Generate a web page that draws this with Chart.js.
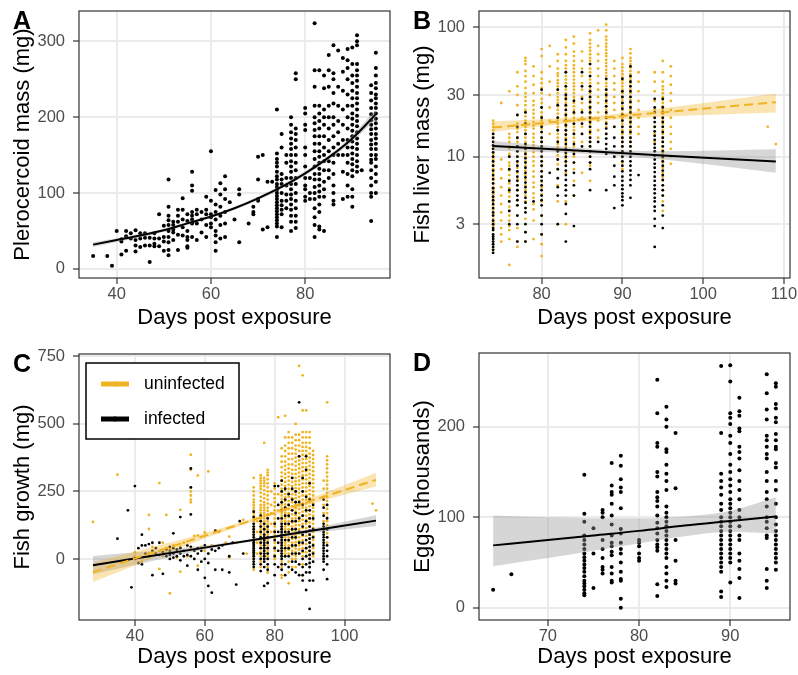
<!DOCTYPE html>
<html><head><meta charset="utf-8">
<script src="https://cdn.jsdelivr.net/npm/chart.js@4.4.0/dist/chart.umd.min.js"></script>
<style>
html,body{margin:0;padding:0;background:#fff;}
#wrap{position:relative;width:798px;height:675px;overflow:hidden;}
canvas{position:absolute;}
</style></head><body>
<div id="wrap">
<canvas id="cA" width="400" height="335" style="left:0;top:0"></canvas>
<canvas id="cB" width="398" height="335" style="left:400px;top:0"></canvas>
<canvas id="cC" width="400" height="340" style="left:0;top:335px"></canvas>
<canvas id="cD" width="398" height="340" style="left:400px;top:335px"></canvas>
</div>
<script>
// ---------- Panel A: plerocercoid mass ----------
const aDays = [35,38,39,40,41,42,43,44,45,46,47,48,49,50,51,52,53,54,55,56,57,58,59,60,61,62,63,64,65,66,68,69,70,71,72,73,74,75,76,77,78,80,81,82,83,84,85,86,87,88,89,90,91,92,94,95];
const aMass = [
 [17],[17],[4],[50],[39,36,19],[50,43,24],[47,40],[51,38,31,23],[47,40,29],[47,41,31],[41,31,9],[47,40,33,30],[72,40,30],[57,42,36,24],
 [118,82,70,64,58,50,42,35,25,18],[62,58,52,48,38],[78,70,62,45,25],[93,78,65,55,44],[72,63,50,42,38,30,28],[128,110,103,75,70,65,60,42],
 [78,72,60,38],[75,65,48],[95,78,72,58,42],[155,90,72,68,60,55],[104,85,75,65,50,44,35,24],[113,98,82,70,58,40],[122,105,92,75,60,42],
 [88],[65],[105,98,35],[60],[82,75,72],[148,118,92,90],[150,52],[115,55],[115],
 [210,152,145,140,135,128,122,118,112,108,104,100,96,92,88,84,80,76,72,68,64,60,56,42],
 [178,160,125,118,112,100,90,84,78,72,55],
 [150,140,120,110,98,90,80],
 [200,190,180,172,165,158,150,142,135,128,120,112,105,98,92,85,78,70,62,50],
 [258,250,185,178,170,160,150,140,130,120,112,100,90,80,70,62,54],
 [212,205,190,183,160,150,135,120,110,105,95,90],
 [120,100,92],
 [324,262,240,215,200,192,183,175,165,155,145,135,125,118,108,100,92,80,68,58,42],
 [262,215,205,195,185,175,165,155,148,140,132,125,118,110,102,95,85,75,56,52],
 [255,238,210,200,190,175,160,150,142,130,115,105,95,50],
 [282,262,240,215,200,185,170,155,142,130,120],
 [295,258,250,232,218,200,190,175,160,150,140,125,110,100,90,85],
 [288,240,215,195,180,165,150],
 [278,260,235,210,190,170,150,128,92],
 [290,275,265,250,230,215,200,185,170,160,150,140,125,110,95],
 [292,270,255,245,235,225,215,205,198,190,182,175,168,160,152,145,138,130,122,105,95,82],
 [308,300,295,270,262,255,248,240,232,225,218,210,202,195,188,180,172,165,158,150,142,135,128],
 [130],
 [242,232,222,212,204,196,190,184,178,170,164,158,150,144,140,130,120,110,100,95,63],
 [285,265,255,245,238,230,225,218,212,205,198,192,185,178,172,165,158,150,145,135,125,115,100]
];
const aFitX = [35,40,45,50,55,60,65,70,75,80,85,90,95];
const aFit   = [32,38,44,51,60,69,80,93,108,126,147,172,204];
const aFitLo = [29,35.5,41.5,49,58,67,78,90.5,105.5,123,144,168,197];
const aFitHi = [35,40.5,46.5,53,62,71,82,95.5,110.5,129,150,176,211];
const aTicksX = [40,60,80];
const aTicksY = [0,100,200,300];

// ---------- Panel B: fish liver mass (log scale) ----------
const seriesLabels = ['uninfected','infected'];
const bDaysU = [74,75,76,77,78,79,80,81,82,83,84,85,86,87,88,89,90,91,92,94,95,96,108,109];
const bLiverU = [
 [19,18,17,16,15,14,13,12,11.5,10.5,10,9.5,9,8.5,8,7.5,7,6.6,6.2,5.8,5.5,5.1,4.8,4.5,4.2,3.9,3.6,3.3,3.1,2.9,2.7,2.4,2.1,1.9],
 [26,9.5,8,6.8,5.8,5,4.3,3.7,3.2,2.8,2.5,2.2],
 [32,15,14,13,12,11.5,10.5,10,9,8.5,7.8,7.2,6.6,6.2,5.7,5.3,4.9,4.5,4.1,3.8,3.5,3.2,2.9,2.7,2.3,1.45],
 [45,35,30,25,21,18,16.5,15.5,14,13,12,11,10,9,8.2,7.5,6.7,6,5.5,5,4.6,4.2,3.5,2.8,2.2,2],
 [58,55,52,46,42,38,34,31,29,27,25,23,22,20.5,19,18,17,16,15,14,13,12.2,11.5,10.8,10,9.2,8.5,7.8,7.2,6.6,6,5.5,5,4.5,4,3.3,2.6,2.2],
 [50,42,36,31,27,25,23,21.5,20,18.5,17.5,16.5,15,14,13,12.2,11.5,10.8,10,9.2,8.5,7.7,7,6.3,5.8,5.2,4.8,4.3,3.9,3.2,2.3],
 [68,60,45,40,37,34,31,28,26,24,22,20.5,19,17.5,16.5,15.5,14,13,12,11,10,9.2,8.5,7.7,7,6.4,5.8,5.1,4.5,3.5,2.5,2.1,1.7],
 [72,50,38,30,24,19,15],
 [62,55,48,44,42,39,37,35,33,31,29,27.5,26,24.5,23,21.5,20,19,18,17,16,15,14,13.2,12.5,11.8,11,10.2,9.5,8.7,8,6,4.5,3],
 [80,70,62,55,51,48,45,42,39.5,37,35,33,31,29,27.5,26,24.5,23,21.5,20,19,18,17,16,15,14,13,12,11.2,10.5,9.7,9,7.5,6,4.5,3],
 [85,75,65,60,55,51,48,45,42,39.5,37,35,33,31,29,27.5,26,24.5,23,21.5,20,19,18,17,16,15,14,13,12,11,10,9,8,6.5,5],
 [65,55,48,42,37,33,29,26,23,20,17,15,13,11,7.5],
 [90,80,75,70,66,62,58,55,52,48,45,42,39.5,37,35,33,31,29,27.5,26,24.5,23,21.5,20,19,18,17,16,15,14,13,12,11,10,9,8.5,6.5],
 [95,72,62,55,48,42,37,33,29,26,22,19,16,14],
 [105,95,85,80,75,71,67,63,60,56,53,50,47,44.5,42,39.5,37,35,33,31,29,27.5,26,24.5,23,21.5,20,18.5,17,15],
 [55,48,42,37,33,29,26,23,20,17],
 [58,52,49,46,43.5,41,39,37,35,33,31,29,27.5,26,24.5,23,21.5,20,19,18,17,16,15,14,13,12,11,10,9,8],
 [68,63,58,55,52,49,46,43.5,41,39,37,35,33,31,29,27.5,26,24.5,23,21.5,20,19,18,17,16,15,14,13,12,11],
 [45,38,32,27,23,20,17,15],
 [45,38,32,27,23,20,17,15,13,11],
 [55,45,38,35,33,31,29,27.5,26,24.5,23,21.5,20,19,18,17,16,15,14,13,12,11.2,10.5,9.7,9,8.2,7.5,7,6.5,6,5.5,5,4.5,3.8],
 [50,42,36,31,27,23,20,17,15,13,11.5,10,8.8],
 [17],[12.5]
];
const bDaysI = [74,76,77,78,79,80,81,82,83,84,85,86,87,88,89,90,91,92,94,95];
const bLiverI = [
 [15,14,13,12.2,11.5,10.8,10,9.2,8.5,7.8,7.2,6.7,6.2,5.7,5.3,4.9,4.6,4.3,4,3.7,3.5,3.2,3,2.8,2.7,2.5,2.4,2.3,2.2,2.1,2,1.9,1.8],
 [10,8,6.5,5.5,4.5,3.8,3],
 [21,17,14,12,11,10,9.2,8.5,7.7,7,6.5,6,5.5,5,4.6,4.2,3.5,3,2.2],
 [22,18,15,12.5,11.5,10.5,9.7,9,8.2,7.5,6.9,6.3,5.8,5.3,4.8,4.4,4,3.7,3,2.6,2.2],
 [4.5],
 [33,24,20,17,15.5,14,13,12,11,10,9.2,8.5,7.7,7,6.5,6,5.5,5,4.6,4.2,3.5,3,2.5],
 [7.5],
 [33,25,20,16,13,11,9.5,8,6.8,5.8,5,3],
 [45,35,30,28,25,23,21,19,17.5,16,14.8,13.5,12.5,11.5,10.7,10,9.2,8.5,7.8,7.2,6.6,6,5.5,5,4.3,3.6,2.2],
 [27,22,18,15,12.5,10.5,9,7.5,6,5,2.9],
 [45,35,28,22,18,15,12],
 [52,42,35,32,29,26.5,24,22,20,18.5,17,15.5,14,13,12,11,10,9,8,5.5],
 [13],
 [40,33,30,27,24.5,22,20,18,16.5,15,13.8,12.5,11.5,10.5,5.5],
 [17,14,12,10,8.5,7,6,4],
 [40,32,29,26,23.5,21,19,17,15.5,14,13,12,11,10,9.2,8.5,7.7,7,6.5,6,5.6,5.2,4.9,4.6,4.2],
 [50,42,38,35,32,29,26.5,24,22,20,18.5,17,15.5,14,13,12,11,10,9.2,8.5,7.8,7.2,6.6,6,4.8],
 [7.2],
 [28,24,22,20,18.5,17,15.7,14.5,13.5,12.5,11.7,11,10.2,9.5,8.8,8.2,7.6,7,6.5,6,5.6,5.2,4.8,4.5,4.1,3.8,3.3,2.9,2],
 [28,24,22,20,18.5,17,15.5,14,13,12,11,10,9.2,8.5,7.8,7.2,6.6,6,5.5,5,4.2,3.5,2.8]
];
const bFitX = [74,86,95,109];
const bFitU = [16.8,19.6,22,26.4];
const bLoU  = [15.6,18.8,20.4,22.0];
const bHiU  = [18.7,20.5,23.7,30.8];
const bFitI = [12.1,11.0,10.2,9.15];
const bLoI  = [11.1,10.5,9.5,7.5];
const bHiI  = [13.2,11.5,11.0,11.4];
const bTicksX = [80,90,100,110];
const bTicksY = [3,10,30,100];

// ---------- Panel C: fish growth ----------
const cDaysU = [28,35,40,42,44,45,47,48,49,50,51,52,53,54,55,56,57,58,59,60,61,62,64,66,67,69,71,72,74,75,76,77,78,79,80,81,82,83,84,85,86,87,88,89,90,91,94,95,108,109];
const cGrowthU = [
 [137],[312],[25,10],[-10],[163,111,20],[45],[281,-37,30],[60,10],[163,40],[-127,20,35],[50],[30,5],[182,-47,45],[60],[10],
 [386,330,265,250,235,220,210,40],[85],[309,87,-25],[45],[98,30],[324,20],[50],[100],[60],[83,5],[60],[145],[20],
 [300,265,250,235,220,210,200,190,180,170,160,150,140,130,120,110,100,90,80,70,60,50,40,30,20,10,0,-20,-40],
 [140,100,60,20],
 [310,300,290,280,270,260,245,230,215,200,190,180,170,160,150,140,130,120,110,100,90,80,70,60,50,40,25,10,-10,-30],
 [430,300,290,280,270,255,240,225,210,200,190,180,170,160,150,140,130,120,110,100,90,80,70,60,50,40,30,20,10],
 [330,320,310,295,280,265,250,235,220,205,190,178,165,152,140,130,120,110,100,90,80,70,60,50,40,30,20,10,0,-30,-50],
 [250,200,170,130,100],
 [280,260,240,225,210,195,180,165,150,135,120,105,90,75,60,45,30,15,0],
 [525,240,180],
 [410,380,360,340,320,305,290,275,260,248,235,222,210,200,190,180,170,160,150,140,130,120,110,100,90,80,70,60,50,40,30,20,10,-10,-30,-60,-70],
 [530,450,420,400,380,360,345,330,315,300,285,270,255,240,228,215,202,190,180,170,160,150,140,130,120,110,100,90,80,70,60,50,40,30,20,10],
 [470,450,430,410,390,370,350,335,320,305,290,275,260,245,230,215,200,185,170,155,140,125,110,95,80,65,50,35,20,-10,-50,-90],
 [450,430,410,390,370,350,330,315,300,285,270,255,240,225,210,195,180,165,150,135,120,105,90,75,60,45,30,15,0,-30],
 [500,460,440,420,405,390,375,360,345,330,315,300,288,275,262,250,238,225,212,200,188,175,162,150,138,125,112,100,88,75,62,50,38,25,12,0,-30],
 [715,460,440,420,400,380,365,350,335,320,305,290,275,260,245,230,215,200,185,170,155,140,125,110,95,80,65,50,35,20],
 [680,550,470,450,430,415,400,385,370,355,340,325,310,295,280,265,250,235,220,205,190,175,160,145,130,115,100,85,70,55,40,25,10,-20,-60],
 [550,470,450,430,415,400,385,370,355,340,325,310,295,280,265,250,235,220,205,190,175,160,145,130,115,100,85,70,55,40,25,10],
 [470,450,430,410,390,375,360,345,330,315,300,285,270,255,240,225,210,195,180,165,150,135,120,105,90,75,60,45,30,15,0,-30],
 [400,385,370,355,340,325,310,295,280,265,250,235,220,205,190,175,160,145,130,115,100,85,70,55,40,25,10],
 [290,260,230,200,170,140,110],
 [580,380,365,350,335,320,305,290,275,260,245,230,215,200,185,170,155,140,125,110,95,80,60],
 [205],[180]
];
const cDaysI = [35,38,39,40,41,42,43,44,45,46,47,48,49,50,51,52,53,54,55,56,57,58,59,60,61,62,63,64,65,67,68,69,70,71,74,76,77,78,80,81,82,83,84,85,86,87,88,89,90,91,94,95];
const cGrowthI = [
 [75],[180],[-105],[270,0],[-15,40],[90,50,-20],[50,20],[55,10],[60,30,-60],[40,20],[60,15],[-55,25],[35,10],[45,30,15,0],
 [95,40,20,5],[35,10],[155,40,20,-5],[30,10],[50,15,-25],[335,265,165,45,10],[30,0],[40,20,-40],[30,-10],[50,0,-70],
 [20,-15,-100],[35,-125],[105,30,-40],[40],[50,-40],[10,-50],[60],[-95],[140],[20],
 [175,155,130,120,110,100,90,80,70,62,55,48,40,32,25,18,10,0,-10,-20,-30],
 [160,140,120,100,80,60,40,20,0,-20,-45],
 [130,110,90,80,70,60,50,40,30,20,10,0,-10,-30,-100],
 [150,120,100,80,60,40,20,0,-20,-40,-90],
 [270,130,100,70,40,10,-20,-60],
 [270,200,150,100,60,30,-30],
 [290,250,210,180,150,130,120,110,100,90,80,70,60,50,40,30,20,10,0,-20,-40],
 [260,220,190,160,130,100,70,40,10,-20,-60],
 [240,200,160,130,100,70,40,10,-30],
 [300,260,220,180,140,110,80,50,20,-10,-40],
 [250,210,170,140,110,80,50,20,-10,-50],
 [580,380,210,150,100,60,20,-20,-60],
 [300,250,200,160,120,90,60,30,0,-30,-60,-80],
 [380,330,230,180,140,100,70,40,10,-20,-50,-115],
 [280,220,180,150,120,105,90,75,60,45,30,15,0,-15,-30,-50,-80,-185],
 [200,150,110,80,50,20,-10,-80],
 [220,190,160,130,120,110,100,90,80,70,60,50,40,30,20,10,0,-10,-40],
 [200,150,110,80,50,30,10,-20,-75]
];
const cFitX = [28,60,85,109];
const cFitU = [-49,86,192,293];
const cLoU  = [-85,76,184,268];
const cHiU  = [-13,96,200,318];
const cFitI = [-23,42,93,142];
const cLoI  = [-57,34,87,122];
const cHiI  = [11,50,99,162];
const cTicksX = [40,60,80,100];
const cTicksY = [0,250,500,750];

// ---------- Panel D: eggs ----------
const dDays = [64,66,74,75,76,77,78,80,82,83,84,89,90,91,94,95];
const dEggs = [
 [20],[37],
 [147,104,95,80,75,70,65,60,56,52,48,44,40,35,30,27,24,20,16,14],
 [88,60,22],
 [108,105,100,75,65,55,45,42,38],
 [160,135,128,125,115,102,92,80,72,68,62,58,45,38,30,28],
 [168,157,142,133,128,110,87,82,72,65,60,50,40,32,30,10,0],
 [75,72,68,60,55,52],
 [252,215,182,178,150,145,128,122,118,112,102,94,88,82,75,70,67,63,26,13],
 [222,208,200,175,172,158,148,140,130,112,105,100,95,90,85,80,75,70,65,60,55,45,38,30,23],
 [193,132,75,52,30,27],
 [267,193,148,140,133,125,115,108,100,95,90,85,80,75,70,65,60,55,50,45,40,18,12],
 [268,250,215,210,203,190,182,170,158,150,142,135,128,120,115,110,105,100,95,90,85,80,75,70,65,60,55,50,28],
 [232,217,212,198,195,178,172,165,152,140,130,120,108,100,90,80,75,60,52,43,33,11],
 [258,237,219,208,190,185,178,170,165,150,140,128,120,112,100,95,88,80,77,43,30,22],
 [248,244,225,220,210,205,192,185,178,175,160,155,140,130,115,100,92,85,80,75,70,65,60,55,50,42]
];
const dFitX = [64,70,75,80,85,90,95];
const dFit  = [69,75,80,85,91,96,101];
const dLo   = [46,55,63,71,79,84,82];
const dHi   = [102,100,99,99,101,107,122];
const dTicksX = [70,80,90];
const dTicksY = [0,100,200];

// ---------- helpers ----------
const FONT = '"Liberation Sans", Arial, Helvetica, sans-serif';
const ORANGE = '#F0B323';
const ORANGE_BAND = 'rgba(240,179,35,0.35)';
const GREY_BAND = 'rgba(153,153,153,0.4)';
Chart.defaults.font.family = FONT;

function flat(days, vals){ return days.flatMap((d,i)=>vals[i].map(v=>({x:d,y:v}))); }
function pairs(xs, ys){ return xs.map((x,i)=>({x:x,y:ys[i]})); }

function pointsDS(data, color, r, order){
  return {type:'scatter', data, backgroundColor:color, borderWidth:0, pointRadius:r, pointHoverRadius:r, pointBorderWidth:0, showLine:false, order};
}
function bandDS(xs, lo, hi, color, idx){
  return [
    {type:'line', data:pairs(xs,lo), borderWidth:0, pointRadius:0, fill:false, order:2, cubicInterpolationMode:'monotone'},
    {type:'line', data:pairs(xs,hi), borderWidth:0, pointRadius:0, fill:{target:idx}, backgroundColor:color, order:2, cubicInterpolationMode:'monotone'}
  ];
}
function lineDS(xs, ys, color, dash){
  return {type:'line', data:pairs(xs,ys), borderColor:color, borderWidth:2, borderDash:dash||[], pointRadius:0, fill:false, order:1, cubicInterpolationMode:'monotone'};
}

function frameAndLetter(letter){
  return {id:'frame'+letter, afterDraw(chart){
    const ctx = chart.ctx, a = chart.chartArea;
    ctx.save();
    ctx.strokeStyle = '#333333'; ctx.lineWidth = 1.2;
    ctx.strokeRect(a.left, a.top, a.right-a.left, a.bottom-a.top);
    ctx.fillStyle = '#000'; ctx.font = 'bold 25px ' + FONT;
    ctx.textAlign = 'left'; ctx.textBaseline = 'alphabetic';
    ctx.fillText(letter, 13, a.top + 18);
    ctx.restore();
  }};
}
function keyBox(items){
  return {id:'keybox', afterDraw(chart){
    const ctx = chart.ctx; const bx = 86, by = 28, bw = 153, bh = 76;
    ctx.save();
    ctx.fillStyle = '#fff'; ctx.fillRect(bx,by,bw,bh);
    ctx.strokeStyle = '#000'; ctx.lineWidth = 1.5; ctx.strokeRect(bx,by,bw,bh);
    items.forEach((it,i)=>{
      const y = by + 21 + i*35;
      ctx.strokeStyle = it.color; ctx.lineWidth = 5;
      ctx.beginPath(); ctx.moveTo(bx+15,y); ctx.lineTo(bx+43,y); ctx.stroke();
      ctx.fillStyle = it.color; ctx.beginPath(); ctx.arc(bx+29,y,2.5,0,Math.PI*2); ctx.fill();
      ctx.fillStyle = '#000'; ctx.font = '17.5px ' + FONT; ctx.textBaseline = 'middle'; ctx.textAlign='left';
      ctx.fillText(it.label, bx+58, y);
    });
    ctx.restore();
  }};
}

function scaleX(min,max,ticks,h,titlePad){
  return {type:'linear', position:'bottom', min, max,
    afterBuildTicks: s=>{ s.ticks = ticks.map(v=>({value:v})); },
    afterFit: s=>{ s.height = h; s.paddingLeft = 0; s.paddingRight = 0; },
    grid:{color:'#EBEBEB', lineWidth:2, tickColor:'#333333', tickWidth:1.2, tickLength:6, drawTicks:true},
    border:{display:false},
    ticks:{color:'#4D4D4D', font:{family:FONT,size:16.5}, padding:1, maxRotation:0, autoSkip:false, callback:v=>String(v)},
    title:{display:true, text:'Days post exposure', color:'#000', font:{family:FONT,size:22}, padding:{top:0,bottom:titlePad}}
  };
}
function scaleY(type,min,max,ticks,title){
  return {type, position:'left', min, max,
    afterBuildTicks: s=>{ s.ticks = ticks.map(v=>({value:v})); },
    afterFit: s=>{ s.width = 79; s.paddingTop = 0; s.paddingBottom = 0; },
    grid:{color:'#EBEBEB', lineWidth:2, tickColor:'#333333', tickWidth:1.2, tickLength:6, drawTicks:true},
    border:{display:false},
    ticks:{color:'#4D4D4D', font:{family:FONT,size:16.5}, padding:8, autoSkip:false, callback:v=>String(v)},
    title:{display:true, text:title, color:'#000', font:{family:FONT,size:22}, padding:{top:10,bottom:0}}
  };
}
function baseOptions(pad, scales){
  return {responsive:false, animation:false, events:[], layout:{padding:pad},
    plugins:{legend:{display:false}, tooltip:{enabled:false}},
    scales};
}

// ---------- Chart A ----------
new Chart(document.getElementById('cA'), {
  type:'scatter',
  data:{datasets:[
    lineDS(aFitX, aFit, '#000'),
    ...bandDS(aFitX, aFitLo, aFitHi, GREY_BAND, 1),
    pointsDS(flat(aDays,aMass), '#000', 2, 3)
  ]},
  options: baseOptions({left:0,top:11,right:10,bottom:0},
    {x:scaleX(32,98,aTicksX,57,4), y:scaleY('linear',-12,340,aTicksY,'Plerocercoid mass (mg)')}),
  plugins:[frameAndLetter('A')]
});

// ---------- Chart B ----------
new Chart(document.getElementById('cB'), {
  type:'scatter',
  data:{datasets:[
    lineDS(bFitX, bFitU, ORANGE, [9,5]),
    lineDS(bFitX, bFitI, '#000'),
    ...bandDS(bFitX, bLoU, bHiU, ORANGE_BAND, 2),
    ...bandDS(bFitX, bLoI, bHiI, GREY_BAND, 4),
    Object.assign(pointsDS(flat(bDaysI,bLiverI), '#000', 1.4, 3), {label:seriesLabels[1]}),
    Object.assign(pointsDS(flat(bDaysU,bLiverU), ORANGE, 1.4, 4), {label:seriesLabels[0]})
  ]},
  options: baseOptions({left:0,top:11,right:8,bottom:0},
    {x:scaleX(72.25,110.75,bTicksX,57,4), y:scaleY('logarithmic',1.15,134,bTicksY,'Fish liver mass (mg)')}),
  plugins:[frameAndLetter('B')]
});

// ---------- Chart C ----------
new Chart(document.getElementById('cC'), {
  type:'scatter',
  data:{datasets:[
    lineDS(cFitX, cFitU, ORANGE, [9,5]),
    lineDS(cFitX, cFitI, '#000'),
    ...bandDS(cFitX, cLoU, cHiU, ORANGE_BAND, 2),
    ...bandDS(cFitX, cLoI, cHiI, GREY_BAND, 4),
    Object.assign(pointsDS(flat(cDaysI,cGrowthI), '#000', 1.4, 3), {label:seriesLabels[1]}),
    Object.assign(pointsDS(flat(cDaysU,cGrowthU), ORANGE, 1.4, 4), {label:seriesLabels[0]})
  ]},
  options: baseOptions({left:0,top:19,right:10,bottom:0},
    {x:scaleX(24,113,cTicksX,55,5), y:scaleY('linear',-226,759,cTicksY,'Fish growth (mg)')}),
  plugins:[frameAndLetter('C'), keyBox([{label:seriesLabels[0],color:ORANGE},{label:seriesLabels[1],color:'#000'}])]
});

// ---------- Chart D ----------
new Chart(document.getElementById('cD'), {
  type:'scatter',
  data:{datasets:[
    lineDS(dFitX, dFit, '#000'),
    ...bandDS(dFitX, dLo, dHi, GREY_BAND, 1),
    pointsDS(flat(dDays,dEggs), '#000', 2, 3)
  ]},
  options: baseOptions({left:0,top:18,right:8,bottom:0},
    {x:scaleX(62.45,96.55,dTicksX,55,5), y:scaleY('linear',-13.4,281.4,dTicksY,'Eggs (thousands)')}),
  plugins:[frameAndLetter('D')]
});
</script>
</body></html>
